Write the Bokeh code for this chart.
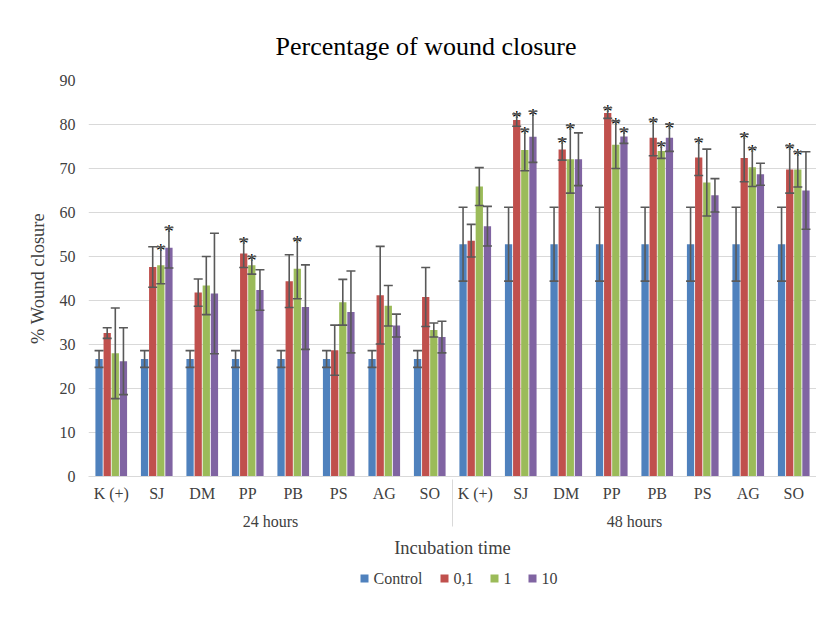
from bokeh.plotting import figure
from bokeh.layouts import column
from bokeh.models import (FactorRange, Whisker, TeeHead, FixedTicker, ColumnDataSource)
from bokeh.transform import dodge
from bokeh.core.properties import value
from bokeh.embed import file_html
from bokeh.resources import INLINE

times = ["24 hours", "48 hours"]
cats = ["K (+)", "SJ", "DM", "PP", "PB", "PS", "AG", "SO"]
series = ["Control", "0,1", "1", "10"]
colors = ["#4f81bd", "#c0504d", "#9bbb59", "#8064a2"]

control = [26.7, 26.7, 26.7, 26.7, 26.7, 26.7, 26.7, 26.7,
           52.8, 52.8, 52.8, 52.8, 52.8, 52.8, 52.8, 52.8]
control_err = [1.9, 1.9, 1.9, 1.9, 1.9, 1.9, 1.9, 1.9,
               8.4, 8.4, 8.4, 8.4, 8.4, 8.4, 8.4, 8.4]
c01 = [32.6, 47.6, 41.8, 50.7, 44.4, 28.7, 41.2, 40.8,
       53.6, 81.0, 74.3, 82.6, 77.0, 72.5, 72.4, 69.8]
c01_err = [1.2, 4.6, 3.1, 3.2, 6.0, 5.7, 11.1, 6.7,
           3.7, 1.4, 2.4, 1.2, 4.1, 4.1, 5.4, 5.4]
c1 = [28.0, 48.0, 43.4, 48.0, 47.2, 39.6, 38.8, 33.3,
      65.9, 74.2, 72.1, 75.4, 74.0, 66.8, 70.3, 69.8]
c1_err = [10.3, 4.2, 6.6, 2.0, 6.8, 5.2, 4.6, 1.6,
          4.3, 4.7, 7.7, 5.4, 1.7, 7.6, 4.4, 4.0]
c10 = [26.2, 52.0, 41.6, 42.4, 38.5, 37.4, 34.3, 31.7,
       56.9, 77.2, 72.1, 77.3, 77.0, 63.9, 68.7, 65.0]
c10_err = [7.6, 4.6, 13.7, 4.6, 9.6, 9.3, 2.6, 3.6,
           4.5, 5.8, 6.0, 1.6, 3.1, 3.8, 2.5, 8.8]
sig_control = [0] * 16
sig01 = [0, 0, 0, 1, 0, 0, 0, 0, 0, 1, 1, 1, 1, 1, 1, 1]
sig1 = [0, 1, 0, 1, 1, 0, 0, 0, 0, 1, 1, 1, 1, 0, 1, 1]
sig10 = [0, 1, 0, 0, 0, 0, 0, 0, 0, 1, 0, 1, 1, 0, 0, 0]

values = [control, c01, c1, c10]
errors = [control_err, c01_err, c1_err, c10_err]
sigs = [sig_control, sig01, sig1, sig10]
offsets = [-0.268, -0.089, 0.089, 0.268]

x = [(t, c) for t in times for c in cats]

FONT = "Liberation Serif"
TXT = "#404040"
LEFT = 88
FRAME_W = 728

p = figure(x_range=FactorRange(*x, factor_padding=0, group_padding=0, range_padding=0),
           y_range=(0, 90), frame_width=FRAME_W, frame_height=396,
           output_backend="svg", toolbar_location=None,
           title="Percentage of wound closure",
           min_border_left=LEFT, min_border_right=0, min_border_top=80,
           min_border_bottom=4)

p.title.align = "left"
p.title.text_font = FONT
p.title.text_font_size = "26px"
p.title.text_font_style = "normal"
p.title.text_color = "#000000"
p.title.standoff = 40
p.title.offset = 187

p.outline_line_color = None
p.xgrid.grid_line_color = None
p.ygrid.grid_line_color = "#d9d9d9"
p.ygrid.grid_line_width = 1

p.yaxis.ticker = FixedTicker(ticks=list(range(0, 91, 10)))
p.yaxis.axis_line_color = None
p.yaxis.major_tick_line_color = None
p.yaxis.major_tick_out = 0
p.yaxis.major_tick_in = 0
p.yaxis.minor_tick_line_color = None
p.yaxis.major_label_text_font = FONT
p.yaxis.major_label_text_font_size = "16px"
p.yaxis.major_label_text_color = TXT
p.yaxis.major_label_standoff = 13
p.yaxis.axis_label = "% Wound closure"
p.yaxis.axis_label_text_font = FONT
p.yaxis.axis_label_text_font_size = "18.5px"
p.yaxis.axis_label_text_font_style = "normal"
p.yaxis.axis_label_text_color = TXT
p.yaxis.axis_label_standoff = 9

xa = p.xaxis[0]
xa.axis_line_color = "#d9d9d9"
xa.axis_line_width = 1
xa.major_tick_line_color = None
xa.major_tick_out = 0
xa.major_tick_in = 0
xa.minor_tick_line_color = None
xa.major_label_text_font = FONT
xa.major_label_text_font_size = "16px"
xa.major_label_text_color = TXT
xa.major_label_orientation = "horizontal"
xa.major_label_standoff = 8
xa.group_text_font = FONT
xa.group_text_font_size = "16px"
xa.group_text_font_style = "normal"
xa.group_text_color = TXT
xa.group_label_orientation = "horizontal"
xa.separator_line_color = "#d9d9d9"
xa.separator_line_width = 1
xa.axis_label = "Incubation time"
xa.axis_label_text_font = FONT
xa.axis_label_text_font_size = "18.5px"
xa.axis_label_text_font_style = "normal"
xa.axis_label_text_color = TXT
xa.axis_label_standoff = 5

for col, vals, errs, sg, off in zip(colors, values, errors, sigs, offsets):
    src = ColumnDataSource(dict(
        x=x, top=vals,
        upper=[v + e for v, e in zip(vals, errs)],
        lower=[v - e for v, e in zip(vals, errs)],
        star=["*" if s else "" for s in sg],
    ))
    p.vbar(x=dodge("x", off, range=p.x_range), top="top", width=0.16,
           source=src, fill_color=col, line_color=None)
    w = Whisker(base=dodge("x", off, range=p.x_range), upper="upper", lower="lower",
                source=src, line_color="#595959", line_width=1.6, level="overlay",
                upper_head=TeeHead(size=9, line_color="#595959", line_width=1.6),
                lower_head=TeeHead(size=9, line_color="#595959", line_width=1.6))
    p.add_layout(w)
    p.text(x=dodge("x", off, range=p.x_range), y="upper", text="star", source=src,
           text_font=value(FONT), text_font_size="19px", text_color="#000000",
           text_align="center", text_baseline="alphabetic", y_offset=4, level="overlay")

# legend strip below the chart; its x range is in page pixels
LEG_H = 36
leg_start = 360          # left edge of first swatch (px)
label_widths = [50, 20, 8, 16]   # approximate rendered label widths (px)
swatch_gap, item_gap = 13, 17
sx, lx = [], []
pos = leg_start
for wdt in label_widths:
    sx.append(pos + 4)
    lx.append(pos + swatch_gap)
    pos += swatch_gap + wdt + item_gap

lf = figure(frame_width=FRAME_W, frame_height=LEG_H, output_backend="svg",
            toolbar_location=None, min_border_left=LEFT, min_border_right=0,
            min_border_top=0, min_border_bottom=0,
            x_range=(LEFT, LEFT + FRAME_W), y_range=(0, LEG_H),
            x_axis_location=None, y_axis_location=None)
lf.grid.visible = False
lf.outline_line_color = None
lsrc = ColumnDataSource(dict(sx=sx, lx=lx, y=[LEG_H / 2] * len(series),
                             color=colors, label=series))
lf.scatter(x="sx", y="y", marker="square", size=8, fill_color="color",
           line_color=None, source=lsrc)
lf.text(x="lx", y="y", text="label", source=lsrc, text_font=value(FONT),
        text_font_size="16px", text_color=TXT, text_baseline="middle",
        text_align="left")

layout = column(p, lf, spacing=0)
open("out.html", "w").write(file_html(layout, INLINE))
